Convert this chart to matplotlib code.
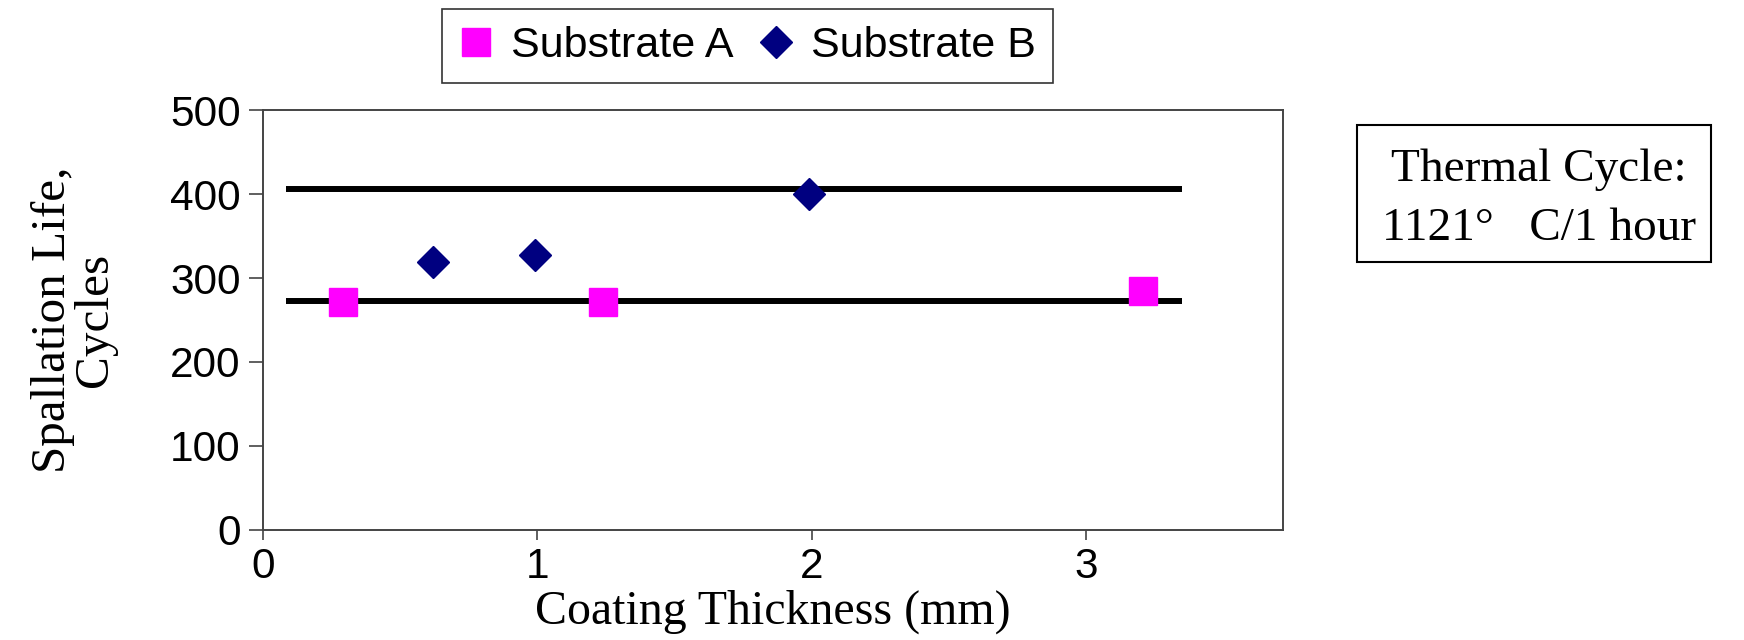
import matplotlib
matplotlib.use("Agg")
import matplotlib.pyplot as plt
from matplotlib.patches import Rectangle

# Data
sub_a_x = [0.29, 1.24, 3.21]
sub_a_y = [271, 271, 284]
sub_b_x = [0.62, 0.99, 1.99]
sub_b_y = [319, 328, 400]
ref_line_x = [0.085, 3.35]
ref_upper = [406, 406]
ref_lower = [272.5, 272.5]
x_ticks = [0, 1, 2, 3]
y_ticks = [0, 100, 200, 300, 400, 500]

SANS = "Liberation Sans"
SERIF = "Liberation Serif"

fig = plt.figure(figsize=(17.44, 6.4), dpi=100)
ax = fig.add_axes([0.1508, 0.172, 0.5846, 0.656])

ax.plot(ref_line_x, ref_upper, color="black", lw=4.3, solid_capstyle="butt", zorder=2)
ax.plot(ref_line_x, ref_lower, color="black", lw=4.3, solid_capstyle="butt", zorder=2)
ax.plot(sub_a_x, sub_a_y, ls="none", marker="s", ms=20, color="#FF00FF",
        mec="#FF00FF", label="Substrate A", zorder=3)
ax.plot(sub_b_x, sub_b_y, ls="none", marker="D", ms=16, color="#000080",
        mec="#000080", label="Substrate B", zorder=3)

ax.set_xlim(0, 3.717)
ax.set_ylim(0, 500)
ax.set_xticks(x_ticks)
ax.set_yticks(y_ticks)
ax.set_xticklabels([str(v) for v in x_ticks], fontsize=30.5, family=SANS)
ax.set_yticklabels([str(v) for v in y_ticks], fontsize=30.5, family=SANS)
ax.tick_params(axis="y", direction="out", length=10, width=1.2, color="#444444", pad=6)
ax.tick_params(axis="x", direction="out", length=7, width=1.2, color="#444444", pad=5)
for s in ax.spines.values():
    s.set_color("#444444")
    s.set_linewidth(1.4)

ax.set_xlabel("Coating Thickness (mm)", fontsize=34.5, family=SERIF, labelpad=2)
ax.set_ylabel("Spallation Life,\nCycles", fontsize=35.5, family=SERIF, labelpad=38,
              linespacing=0.95)

leg = fig.legend(loc="center", bbox_to_anchor=(0.4286, 0.928), ncol=2,
                 prop={"family": SANS, "size": 31}, frameon=True, fancybox=False,
                 edgecolor="black", handlelength=0.8, handletextpad=0.4,
                 columnspacing=0.6, borderpad=0.4, numpoints=1)
leg.get_frame().set_linewidth(1.2)

fig.patches.append(Rectangle((0.7781, 0.5906), 0.203, 0.214, transform=fig.transFigure,
                             fill=False, edgecolor="black", lw=1.5))
fig.text(0.8825, 0.689, "Thermal Cycle:\n1121°   C/1 hour", ha="center", va="center",
         multialignment="center", fontsize=34, family=SERIF, linespacing=1.5)

fig.savefig("out.png", dpi=100, facecolor="white")
